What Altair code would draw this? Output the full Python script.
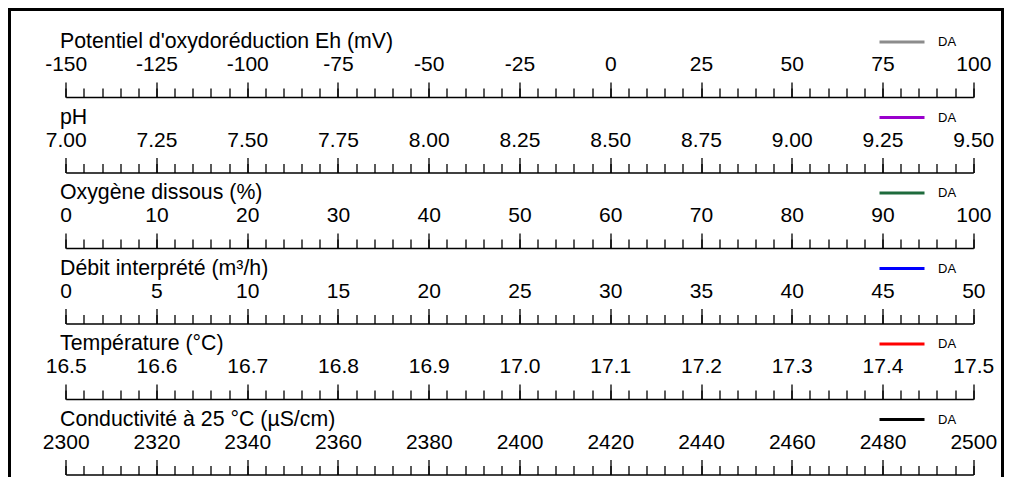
import altair as alt
import numpy as np
import pandas as pd

# ---------------- data ----------------
TITLES = [
    "Potentiel d'oxydoréduction Eh (mV)",
    "pH",
    "Oxygène dissous (%)",
    "Débit interprété (m³/h)",
    "Température (°C)",
    "Conductivité à 25 °C (µS/cm)",
]
AXIS_MIN = [-150, 7.00, 0, 0, 16.5, 2300]
AXIS_MAX = [100, 9.50, 100, 50, 17.5, 2500]
MAJOR_TICKS = [
    [-150, -125, -100, -75, -50, -25, 0, 25, 50, 75, 100],
    [7.00, 7.25, 7.50, 7.75, 8.00, 8.25, 8.50, 8.75, 9.00, 9.25, 9.50],
    [0, 10, 20, 30, 40, 50, 60, 70, 80, 90, 100],
    [0, 5, 10, 15, 20, 25, 30, 35, 40, 45, 50],
    [16.5, 16.6, 16.7, 16.8, 16.9, 17.0, 17.1, 17.2, 17.3, 17.4, 17.5],
    [2300, 2320, 2340, 2360, 2380, 2400, 2420, 2440, 2460, 2480, 2500],
]
LABEL_FORMATS = ["d", ".2f", "d", "d", ".1f", "d"]
SERIES = ["DA", "DA", "DA", "DA", "DA", "DA"]
COLORS = ["#8c8c8c", "#9900cc", "#1e6b3c", "#0000ff", "#ff0000", "#000000"]
MINOR_PER_MAJOR = 5

# ---------------- layout (pixels) ----------------
FONT = "Liberation Sans"
OX = 9.5  # page x of view origin
OY = 9.5  # page y of view origin
RANGE = [65.7 - OX, 973.3 - OX]
BASELINES = [97, 172.5, 248, 323.5, 399, 474.5]  # page y of each axis line
MAJOR_TICK = 15
MINOR_TICK = 9
LABEL_ABOVE = 26.5
TITLE_ABOVE = 49.5

layers = []
for i in range(6):
    df = pd.DataFrame({"v": [AXIS_MIN[i]], "serie": [SERIES[i]]})
    scale = alt.Scale(domain=[AXIS_MIN[i], AXIS_MAX[i]], range=RANGE, nice=False, zero=False)
    off = -(BASELINES[i] - OY)
    n_minor = (len(MAJOR_TICKS[i]) - 1) * MINOR_PER_MAJOR + 1
    minor_vals = [float(round(x, 6)) for x in np.linspace(AXIS_MIN[i], AXIS_MAX[i], n_minor)]

    major_axis = alt.Axis(
        orient="top", offset=off, values=MAJOR_TICKS[i], format=LABEL_FORMATS[i],
        labelExpr="replace(datum.label, '\u2212', '-')",
        tickSize=MAJOR_TICK, tickWidth=1.3, tickColor="black",
        domain=True, domainColor="black", domainWidth=1.3,
        labelFont=FONT, labelFontSize=21, labelColor="black",
        labelPadding=LABEL_ABOVE - MAJOR_TICK,
        labelBaseline="alphabetic", labelFlush=False, labelOverlap=False, labelBound=False,
        title=TITLES[i], titleFont=FONT, titleFontSize=21.3, titleFontWeight="normal",
        titleColor="black", titleAlign="left", titleBaseline="alphabetic",
        titleX=50, titleY=-TITLE_ABOVE, grid=False,
    )
    minor_axis = alt.Axis(
        orient="top", offset=off, values=minor_vals, labels=False, domain=False,
        tickSize=MINOR_TICK, tickWidth=1.3, tickColor="black", grid=False, title=None,
    )
    legend = alt.Legend(
        orient="none", legendX=878 - OX, legendY=(BASELINES[i] - 56.5) - OY - 22.5,
        title=None, symbolType="stroke", symbolSize=2025, symbolStrokeWidth=3,
        labelFont=FONT, labelFontSize=13, labelColor="black", labelOffset=12, padding=0,
    )
    major = alt.Chart(df).mark_line(strokeWidth=3).encode(
        x=alt.X("v:Q", scale=scale, axis=major_axis),
        color=alt.Color("serie:N", scale=alt.Scale(domain=[SERIES[i]], range=[COLORS[i]]), legend=legend),
    )
    minor = alt.Chart(df).mark_point(opacity=0).encode(
        x=alt.X("v:Q", scale=scale, axis=minor_axis),
    )
    layers += [minor, major]

chart = (
    alt.layer(*layers)
    .resolve_scale(x="independent", color="independent")
    .resolve_axis(x="independent")
    .resolve_legend(color="independent")
    .properties(
        width=993, height=500,
        autosize=alt.AutoSizeParams(type="none"),
        padding={"left": 1.5, "top": 1.5, "right": 1.5, "bottom": 0},
        background="white",
    )
    .configure_view(stroke="black", strokeWidth=3)
)

chart.save("out.html", embed_options={"renderer": "svg", "actions": False})
